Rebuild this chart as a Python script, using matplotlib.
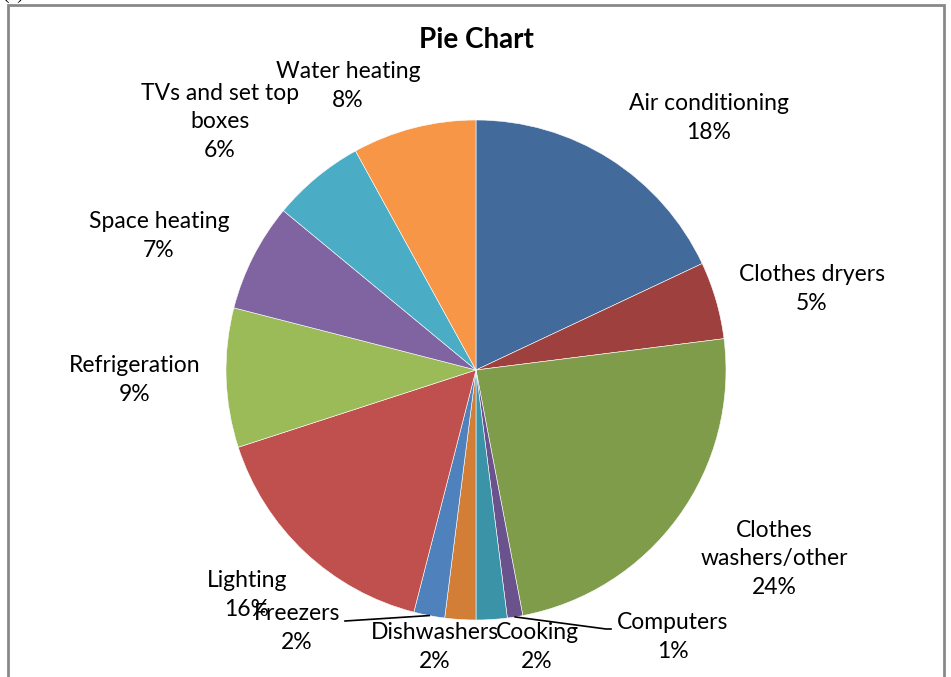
import numpy as np
import matplotlib
matplotlib.use("Agg")
import matplotlib.pyplot as plt
from matplotlib.patches import Rectangle

# slice data, clockwise from 12 o'clock
categories = ["Air conditioning", "Clothes dryers", "Clothes\nwashers/other",
              "Computers", "Cooking", "Dishwashers", "Freezers", "Lighting",
              "Refrigeration", "Space heating", "TVs and set top\nboxes",
              "Water heating"]
shares = [18, 5, 24, 1, 2, 2, 2, 16, 9, 7, 6, 8]
colors = ["#426A9B", "#9E413E", "#7F9C4B", "#6A528C", "#3A93A7", "#D27E36",
          "#4F81BD", "#C0504D", "#9BBB59", "#8064A2", "#4BACC6", "#F79646"]

# label centres in pixel coords (x, y from top)
label_pos = [(709, 118), (812, 289), (774, 559), (673, 637), (537, 647),
             (435, 647), (297, 628), (247, 595), (135, 380), (159, 236),
             (220, 122), (348, 86)]
leader = {"Computers": (611, 629), "Freezers": (345, 621)}

W, H = 951, 677
fig = plt.figure(figsize=(W / 100, H / 100), dpi=100)
ax = fig.add_axes([0, 0, 1, 1])

cx, cy, r = 476, H - 370, 250
wedges, _ = ax.pie(shares, colors=colors, startangle=90, counterclock=False,
                   center=(cx, cy), radius=r, frame=True,
                   wedgeprops=dict(edgecolor="white", linewidth=0.4))
ax.set_xlim(0, W)
ax.set_ylim(0, H)
ax.set_aspect("equal")
ax.axis("off")

font = "Lato"
for name, val, (lx, ly) in zip(categories, shares, label_pos):
    ax.text(lx, H - ly, "%s\n%d%%" % (name, val), ha="center", va="center",
            fontsize=16.5, family=font, linespacing=1.42, zorder=5)

for w, name in zip(wedges, categories):
    if name in leader:
        ang = np.deg2rad((w.theta1 + w.theta2) / 2)
        px, py = cx + r * np.cos(ang), cy + r * np.sin(ang)
        tx, ty = leader[name]
        pts = [(px, py), (tx, H - ty)]
        if name == "Computers":
            pts = [(px, py), (tx - 5, H - ty), (tx, H - ty)]
        xs, ys = zip(*pts)
        ax.plot(xs, ys, color="black", lw=1.2, zorder=4)

ax.text(476, H - 40, "Pie Chart", ha="center", va="center", fontsize=20,
        fontweight="bold", family=font)

ax.add_patch(Rectangle((8, -10), 936, H - 5 + 10, fill=False,
                       edgecolor="#898989", lw=2, zorder=6))
ax.text(2, H - 3, "(a)", ha="left", va="bottom", fontsize=14,
        family="Liberation Serif")

fig.savefig("out.png", dpi=100)
